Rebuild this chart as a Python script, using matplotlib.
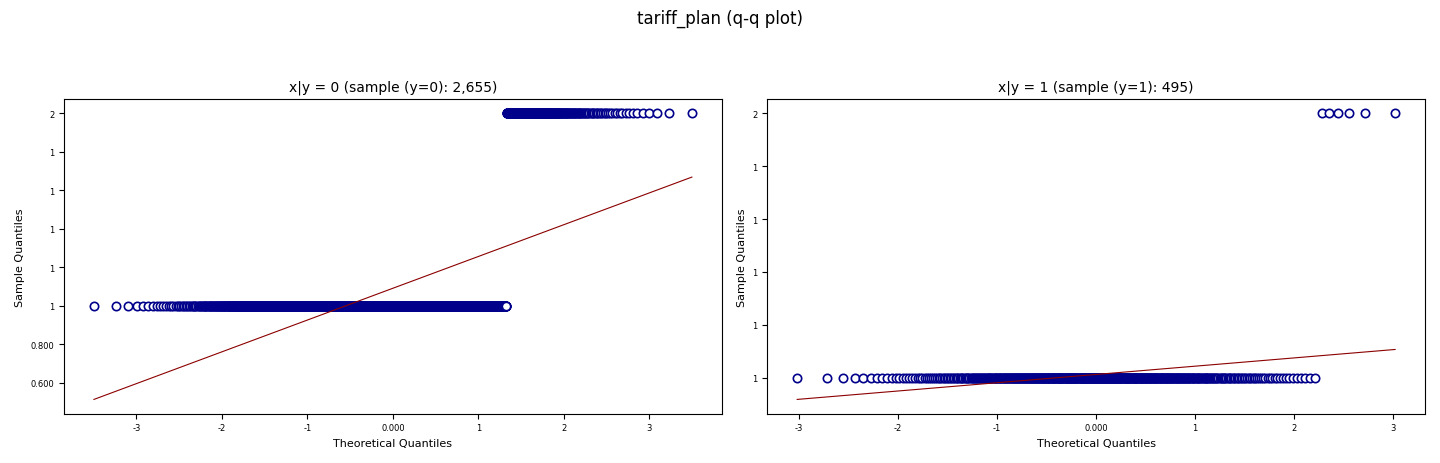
import numpy as np
import matplotlib.pyplot as plt
from matplotlib.ticker import FuncFormatter
from statistics import NormalDist

# counts of each tariff_plan value per class
values = [1, 2]
counts_y0 = [2411, 244]
counts_y1 = [489, 6]
titles = ['x|y = 0 (sample (y=0): 2,655)', 'x|y = 1 (sample (y=1): 495)']


def fmt(v, pos):
    if abs(v) >= 1:
        return f'{int(v):,}'
    return f'{v:.3f}'


def qq(ax, counts, title):
    sample = np.repeat(values, counts).astype(float)
    n = len(sample)
    nd = NormalDist()
    a = 0.375
    theo = np.array([nd.inv_cdf((i - a) / (n + 1 - 2 * a)) for i in range(1, n + 1)])
    ax.plot(theo, sample, 'o', markerfacecolor='white', markeredgecolor='darkblue',
            markersize=6, markeredgewidth=1.2)
    b, c = np.polyfit(theo, sample, 1)
    ax.plot(theo, c + b * theo, color='darkred', linewidth=0.8)
    ax.set_title(title, fontsize=10)
    ax.set_xlabel('Theoretical Quantiles', fontsize=8)
    ax.set_ylabel('Sample Quantiles', fontsize=8)
    ax.tick_params(labelsize=6)
    ax.xaxis.set_major_formatter(FuncFormatter(fmt))
    ax.yaxis.set_major_formatter(FuncFormatter(fmt))


fig, axes = plt.subplots(1, 2, figsize=(14.4, 4.64), dpi=100)
qq(axes[0], counts_y0, titles[0])
qq(axes[1], counts_y1, titles[1])
fig.suptitle('tariff_plan (q-q plot)', fontsize=12)
plt.tight_layout(rect=[0, 0, 1, 0.93])
plt.savefig('out.png', dpi=100)
